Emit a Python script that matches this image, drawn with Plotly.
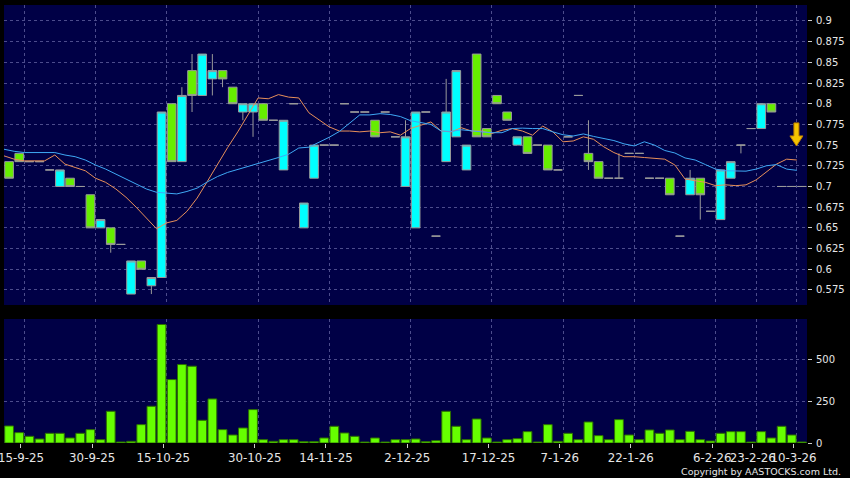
import plotly.graph_objects as go

# ---------------- data ----------------
tick_index = [1, 8, 15, 24, 31, 39, 47, 54, 61, 69, 73, 77]
tick_labels = ["15-9-25", "30-9-25", "15-10-25", "30-10-25", "14-11-25", "2-12-25",
               "17-12-25", "7-1-26", "22-1-26", "6-2-26", "23-2-26", "10-3-26"]

open_p = [0.73, 0.74, 0.73, 0.73, 0.72, 0.70, 0.71, 0.70, 0.69, 0.65,
          0.65, 0.63, 0.57, 0.61, 0.58, 0.59, 0.80, 0.73, 0.84, 0.81,
          0.83, 0.84, 0.82, 0.79, 0.79, 0.80, 0.78, 0.72, 0.80, 0.65,
          0.71, 0.75, 0.75, 0.80, 0.79, 0.79, 0.78, 0.79, 0.76, 0.70,
          0.65, 0.79, 0.64, 0.73, 0.76, 0.72, 0.86, 0.77, 0.81, 0.79,
          0.75, 0.76, 0.75, 0.75, 0.72, 0.76, 0.81, 0.74, 0.73, 0.71,
          0.71, 0.74, 0.74, 0.71, 0.71, 0.71, 0.64, 0.69, 0.71, 0.67,
          0.66, 0.71, 0.75, 0.77, 0.77, 0.80, 0.70, 0.70, 0.70]
high_p = [0.73, 0.74, 0.73, 0.73, 0.72, 0.72, 0.71, 0.70, 0.69, 0.66,
          0.65, 0.63, 0.61, 0.61, 0.59, 0.79, 0.80, 0.82, 0.86, 0.86,
          0.86, 0.84, 0.82, 0.80, 0.80, 0.80, 0.78, 0.78, 0.80, 0.68,
          0.75, 0.75, 0.75, 0.80, 0.79, 0.79, 0.78, 0.79, 0.76, 0.78,
          0.79, 0.79, 0.64, 0.83, 0.84, 0.75, 0.86, 0.77, 0.81, 0.79,
          0.76, 0.76, 0.75, 0.75, 0.72, 0.76, 0.81, 0.78, 0.73, 0.71,
          0.74, 0.74, 0.74, 0.71, 0.71, 0.71, 0.64, 0.72, 0.71, 0.67,
          0.72, 0.73, 0.75, 0.77, 0.80, 0.80, 0.70, 0.70, 0.70]
low_p = [0.71, 0.73, 0.73, 0.73, 0.72, 0.70, 0.70, 0.70, 0.65, 0.65,
         0.62, 0.63, 0.57, 0.60, 0.57, 0.59, 0.73, 0.73, 0.79, 0.81,
         0.81, 0.82, 0.80, 0.78, 0.76, 0.78, 0.78, 0.72, 0.80, 0.65,
         0.71, 0.75, 0.75, 0.80, 0.79, 0.79, 0.76, 0.79, 0.76, 0.70,
         0.65, 0.79, 0.64, 0.73, 0.76, 0.72, 0.76, 0.76, 0.80, 0.78,
         0.75, 0.74, 0.75, 0.72, 0.72, 0.76, 0.81, 0.72, 0.71, 0.71,
         0.71, 0.74, 0.74, 0.71, 0.71, 0.69, 0.64, 0.69, 0.66, 0.67,
         0.66, 0.71, 0.74, 0.77, 0.77, 0.79, 0.70, 0.70, 0.70]
close_p = [0.71, 0.73, 0.73, 0.73, 0.72, 0.72, 0.70, 0.70, 0.65, 0.66,
           0.63, 0.63, 0.61, 0.60, 0.59, 0.79, 0.73, 0.81, 0.81, 0.86,
           0.84, 0.83, 0.80, 0.80, 0.80, 0.78, 0.78, 0.78, 0.80, 0.68,
           0.75, 0.75, 0.75, 0.80, 0.79, 0.79, 0.76, 0.79, 0.76, 0.76,
           0.79, 0.79, 0.64, 0.79, 0.84, 0.75, 0.76, 0.76, 0.80, 0.78,
           0.76, 0.74, 0.75, 0.72, 0.72, 0.76, 0.81, 0.73, 0.71, 0.71,
           0.71, 0.74, 0.74, 0.71, 0.71, 0.69, 0.64, 0.71, 0.69, 0.67,
           0.72, 0.73, 0.75, 0.77, 0.80, 0.79, 0.70, 0.70, 0.70]
volume = [102, 62, 40, 24, 58, 58, 30, 58, 80, 20,
          190, 6, 10, 110, 220, 710, 380, 470, 460, 136,
          264, 80, 48, 90, 200, 20, 10, 20, 20, 8,
          8, 30, 100, 60, 40, 6, 30, 6, 20, 20,
          24, 8, 14, 190, 100, 20, 144, 30, 6, 20,
          26, 68, 6, 110, 10, 58, 20, 126, 44, 20,
          140, 48, 20, 78, 58, 78, 20, 70, 20, 12,
          58, 68, 68, 6, 68, 30, 100, 48, 6]
# moving-average lines, one point at the left edge of each day slot
ma_short = [0.737, 0.733, 0.731, 0.731, 0.731, 0.738, 0.727, 0.723, 0.719, 0.710,
            0.705, 0.697, 0.687, 0.675, 0.662, 0.649, 0.656, 0.659, 0.670, 0.686,
            0.706, 0.727, 0.747, 0.766, 0.786, 0.807, 0.806, 0.811, 0.808, 0.807,
            0.789, 0.780, 0.772, 0.767, 0.767, 0.766, 0.767, 0.765, 0.766, 0.762,
            0.770, 0.774, 0.778, 0.767, 0.766, 0.771, 0.767, 0.767, 0.764, 0.768,
            0.770, 0.767, 0.762, 0.773, 0.766, 0.754, 0.755, 0.760, 0.757, 0.748,
            0.741, 0.736, 0.736, 0.735, 0.734, 0.733, 0.726, 0.709, 0.707, 0.705,
            0.701, 0.702, 0.701, 0.702, 0.708, 0.717, 0.727, 0.733, 0.732]
ma_long = [0.745, 0.7425, 0.741, 0.741, 0.741, 0.741, 0.738, 0.736, 0.732, 0.726,
           0.721, 0.715, 0.709, 0.703, 0.697, 0.693, 0.692, 0.691, 0.694, 0.698,
           0.7055, 0.712, 0.717, 0.7205, 0.724, 0.728, 0.731, 0.735, 0.739, 0.7465,
           0.7475, 0.7535, 0.7595, 0.7665, 0.7765, 0.7865, 0.7865, 0.788, 0.787, 0.7845,
           0.7795, 0.777, 0.775, 0.767, 0.7665, 0.7685, 0.767, 0.766, 0.765, 0.765,
           0.770, 0.7705, 0.770, 0.770, 0.766, 0.7625, 0.761, 0.7635, 0.7605, 0.758,
           0.7555, 0.7515, 0.749, 0.754, 0.750, 0.7435, 0.7405, 0.7345, 0.732, 0.7265,
           0.721, 0.719, 0.7185, 0.7185, 0.721, 0.725, 0.7265, 0.721, 0.7195]
price_ticks = [0.575, 0.6, 0.625, 0.65, 0.675, 0.7, 0.725, 0.75, 0.775, 0.8, 0.825, 0.85, 0.875, 0.9]
price_ticktext = ["0.575", "0.6", "0.625", "0.65", "0.675", "0.7", "0.725", "0.75",
                  "0.775", "0.8", "0.825", "0.85", "0.875", "0.9"]
vol_ticks = [0, 250, 500]

# ---------------- figure ----------------
idx = list(range(len(close_p)))
ma_x = [k - 0.5 for k in range(len(ma_short))]
grid_pos = [t + 0.5 for t in tick_index]
label_pos = [t + 0.17 for t in tick_index]

GRID = "#4c4c8c"
TXT = "#e6e6e6"

fig = go.Figure()
fig.add_trace(go.Candlestick(
    x=idx, open=open_p, high=high_p, low=low_p, close=close_p,
    increasing=dict(fillcolor="#00ffff", line=dict(color="#9a9a9a", width=1)),
    decreasing=dict(fillcolor="#66ee00", line=dict(color="#9a9a9a", width=1)),
    whiskerwidth=0, xaxis="x", yaxis="y", showlegend=False, hoverinfo="skip"))
fig.add_trace(go.Scatter(x=ma_x, y=ma_short, mode="lines", xaxis="x", yaxis="y",
                         line=dict(color="#e8905a", width=1), showlegend=False, hoverinfo="skip"))
fig.add_trace(go.Scatter(x=ma_x, y=ma_long, mode="lines", xaxis="x", yaxis="y",
                         line=dict(color="#3fa9f5", width=1), showlegend=False, hoverinfo="skip"))
fig.add_trace(go.Bar(x=idx, y=volume, xaxis="x2", yaxis="y2", width=0.86,
                     marker=dict(color="#66ff00", line=dict(color="#2d7000", width=1)),
                     showlegend=False, hoverinfo="skip"))

# down arrow marker at the right end
fig.add_shape(type="path", xref="x", yref="y", xsizemode="pixel", ysizemode="pixel",
              xanchor=77.46, yanchor=0.749,
              path="M 0 0 L -6.5 10 L -2.5 10 L -2.5 23 L 2.5 23 L 2.5 10 L 6.5 10 Z",
              fillcolor="#f5c400", line=dict(color="#c08000", width=1))

fig.add_annotation(text="Copyright by AASTOCKS.com Ltd.", xref="paper", yref="paper",
                   x=1.0454, y=-0.064, xanchor="right", yanchor="middle", showarrow=False,
                   font=dict(size=9.5, color=TXT, family="DejaVu Sans"))

minor_grid = dict(tickmode="array", tickvals=grid_pos, showgrid=True, gridcolor=GRID,
                  griddash="3px,3px", gridwidth=1, ticks="")

fig.update_layout(
    width=850, height=478, paper_bgcolor="#000000", plot_bgcolor="#000046",
    margin=dict(l=4, r=42.5, t=5, b=35, autoexpand=False), showlegend=False,
    boxgap=0.15, boxgroupgap=0,
    font=dict(family="DejaVu Sans", color=TXT, size=10),
    xaxis=dict(domain=[0, 1], anchor="y", range=[-0.5, 78.5], rangeslider=dict(visible=False),
               showticklabels=False, tickmode="array", tickvals=label_pos, ticks="",
               showgrid=False, zeroline=False, showline=False, minor=minor_grid),
    yaxis=dict(domain=[0.3151, 1], anchor="x", side="right", range=[0.5568, 0.9193],
               tickmode="array", tickvals=price_ticks, ticktext=price_ticktext,
               ticks="outside", ticklen=4, tickcolor="#cccccc", showgrid=True,
               gridcolor=GRID, griddash="3px,3px", zeroline=False, showline=False,
               tickfont=dict(size=10), ticklabeloverflow="allow", ticklabelstandoff=2),
    xaxis2=dict(domain=[0, 1], anchor="y2", range=[-0.5, 78.5], matches="x",
                tickmode="array", tickvals=label_pos, ticktext=tick_labels, tickangle=0,
                ticks="outside", ticklen=4, tickcolor="#cccccc", showgrid=False,
                zeroline=False, showline=False, minor=minor_grid, tickfont=dict(size=11.8),
                ticklabeloverflow="allow"),
    yaxis2=dict(domain=[0, 0.2831], anchor="x2", side="right", range=[0, 743],
                tickmode="array", tickvals=vol_ticks, ticks="outside", ticklen=4,
                tickcolor="#cccccc", showgrid=True, gridcolor=GRID, griddash="3px,3px",
                zeroline=False, showline=False, tickfont=dict(size=10),
                ticklabeloverflow="allow", ticklabelstandoff=2),
)

fig.write_html("out.html", config={"displayModeBar": False, "staticPlot": True},
               post_script="document.body.style.margin='0px';"
                           "document.body.style.background='#000000';")
